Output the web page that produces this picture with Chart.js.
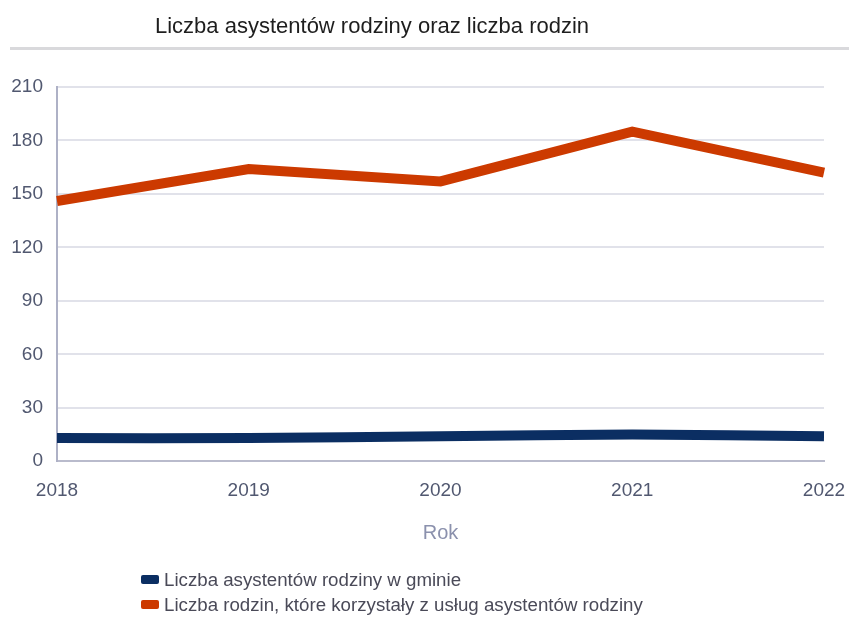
<!DOCTYPE html>
<html lang="pl">
<head>
<meta charset="utf-8">
<script src="https://cdn.jsdelivr.net/npm/chart.js@4"></script>
<style>
  html, body { margin: 0; padding: 0; background: #fff; }
  body { width: 849px; height: 619px; position: relative; overflow: hidden; font-family: "Liberation Sans", Arial, sans-serif; }
  #wrap { position: absolute; left: 0; top: 0; width: 849px; height: 619px; }
  #title { position: absolute; left: 155px; top: 13px; font-size: 22px; color: #1e1e1e; white-space: nowrap; }
  #rule { position: absolute; left: 10px; right: 0; top: 47px; height: 3px; background: #d9d9dc; }
  #legend { position: absolute; left: 141px; top: 568px; font-size: 18.7px; color: #4a4a58; }
  #legend div { height: 25px; line-height: 23px; white-space: nowrap; }
  #legend span { display: inline-block; width: 18px; height: 9px; border-radius: 2px; margin-right: 5px; vertical-align: 2px; }
</style>
</head>
<body>
<div id="wrap"><canvas id="c" width="849" height="619"></canvas></div>
<div id="title">Liczba asystentów rodziny oraz liczba rodzin</div>
<div id="rule"></div>
<div id="legend"></div>
<script>
// dane
const years = ['2018', '2019', '2020', '2021', '2022']
const asystenci = [13, 13, 14, 15, 14]
const rodziny = [146, 164, 157, 185, 162]
const yTicks = [0, 30, 60, 90, 120, 150, 180, 210]

const seriesNames = [
  'Liczba asystentów rodziny w gminie',
  'Liczba rodzin, które korzystały z usług asystentów rodziny',
]
const colors = ['#0b2e62', '#cc3a00']

const tickFont = { family: 'Liberation Sans', size: 19 }
const tickColor = '#515870'

const ctx = document.getElementById('c').getContext('2d')
new Chart(ctx, {
  type: 'line',
  data: {
    labels: years,
    datasets: [
      {
        label: seriesNames[0],
        data: asystenci,
        borderColor: colors[0],
        backgroundColor: colors[0],
        borderWidth: 10,
        tension: 0.3,
        pointRadius: 0,
        borderCapStyle: 'butt',
      },
      {
        label: seriesNames[1],
        data: rodziny,
        borderColor: colors[1],
        backgroundColor: colors[1],
        borderWidth: 10,
        tension: 0,
        pointRadius: 0,
        borderCapStyle: 'butt',
        borderJoinStyle: 'miter',
      },
    ],
  },
  options: {
    responsive: false,
    animation: false,
    layout: { padding: { top: 87, right: 25, bottom: 74, left: 0 } },
    plugins: {
      legend: { display: false },
      title: { display: false },
      tooltip: { enabled: false },
    },
    scales: {
      x: {
        afterFit: scale => {
          scale.paddingLeft = 0
          scale.paddingRight = 0
        },
        grid: { display: false, drawTicks: false },
        border: { color: '#b9bbcc', width: 2 },
        ticks: { font: tickFont, color: tickColor, padding: 18, maxRotation: 0 },
        title: {
          display: true,
          text: 'Rok',
          color: '#8b91ad',
          font: { family: 'Liberation Sans', size: 20 },
          padding: { top: 1, bottom: 0 },
        },
      },
      y: {
        min: 0,
        max: 210,
        afterBuildTicks: scale => {
          scale.ticks = yTicks.map(v => ({ value: v }))
        },
        afterFit: scale => {
          scale.width = 57
        },
        grid: { color: '#e1e2ea', lineWidth: 2, drawTicks: false },
        border: { color: '#aeb1c6', width: 2 },
        ticks: { font: tickFont, color: tickColor, padding: 14 },
      },
    },
  },
})

const legend = document.getElementById('legend')
seriesNames.forEach((name, i) => {
  const row = document.createElement('div')
  const box = document.createElement('span')
  box.style.background = colors[i]
  row.appendChild(box)
  row.appendChild(document.createTextNode(name))
  legend.appendChild(row)
})
</script>
</body>
</html>
